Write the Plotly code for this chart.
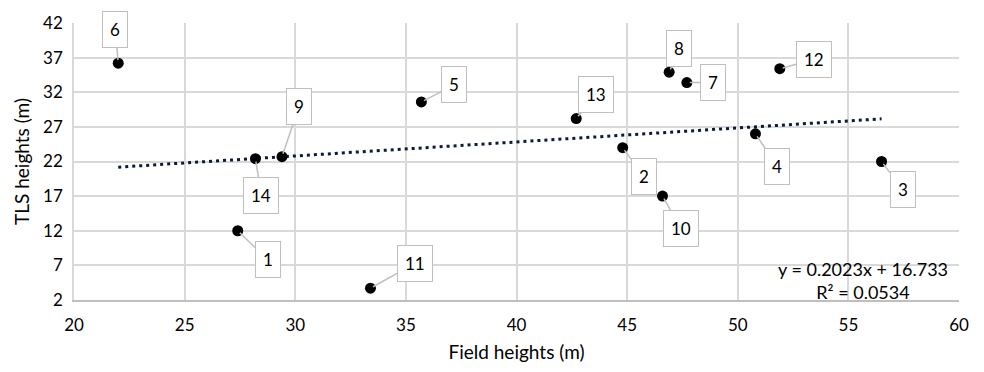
import plotly.graph_objects as go

# Tree heights: field measurement vs terrestrial laser scanning
tree_ids = ["1", "2", "3", "4", "5", "6", "7", "8", "9", "10", "11", "12", "13", "14"]
field_heights = [27.4, 44.8, 56.5, 50.8, 35.7, 22.0, 47.7, 46.9, 29.4, 46.6, 33.4, 51.9, 42.7, 28.2]
tls_heights = [12.0, 24.0, 22.0, 26.0, 30.6, 36.2, 33.4, 34.9, 22.7, 17.0, 3.7, 35.4, 28.2, 22.4]

# Linear trend reported on the chart
slope = 0.2023
intercept = 16.733
r_squared = 0.0534

x_ticks = [20, 25, 30, 35, 40, 45, 50, 55, 60]
y_ticks = [2, 7, 12, 17, 22, 27, 32, 37, 42]

# Callout placement (pixel offset of each label from its point)
callout_offsets = {
    "1": (30, 29), "2": (21, 29), "3": (21, 28), "4": (22, 33),
    "5": (33, -17), "6": (-3, -34), "7": (26, 0), "8": (10, -24),
    "9": (17, -50), "10": (18, 32), "11": (45, -25), "12": (34, -9),
    "13": (20, -24), "14": (6, 37),
}

FONT = "Lato, 'Open Sans', sans-serif"
GRID = "#d9d9d9"

fig = go.Figure()

x0, x1 = min(field_heights), max(field_heights)
fig.add_trace(go.Scatter(
    x=[x0, x1],
    y=[slope * x0 + intercept, slope * x1 + intercept],
    mode="lines",
    line=dict(color="#0b1a3a", width=3, dash="3px,4px"),
    hoverinfo="skip",
    showlegend=False,
))

fig.add_trace(go.Scatter(
    x=field_heights,
    y=tls_heights,
    mode="markers",
    marker=dict(color="black", size=11),
    text=tree_ids,
    showlegend=False,
))

for tid, fx, ty in zip(tree_ids, field_heights, tls_heights):
    dx, dy = callout_offsets[tid]
    fig.add_annotation(
        x=fx, y=ty, text=tid,
        showarrow=True, arrowhead=0, arrowwidth=1.5, arrowcolor="#bfbfbf",
        ax=dx, ay=dy, standoff=3,
        bgcolor="white", bordercolor="#bfbfbf", borderwidth=1, borderpad=7,
        font=dict(family=FONT, size=17, color="black"),
    )

fig.add_annotation(
    x=0.8915, y=0.07, xref="paper", yref="paper",
    xanchor="center", yanchor="middle",
    text=f"y = {slope}x + {intercept}<br>R² = {r_squared}",
    showarrow=False, align="center",
    font=dict(family=FONT, size=18, color="black"),
)

fig.update_layout(
    width=984, height=372,
    margin=dict(l=74, r=25, t=16, b=71),
    paper_bgcolor="white", plot_bgcolor="white",
    font=dict(family=FONT, size=17, color="black"),
    xaxis=dict(
        range=[20, 60], tickvals=x_ticks, showgrid=True, gridcolor=GRID, gridwidth=1.5,
        showline=True, linecolor="#bfbfbf", linewidth=1.5, zeroline=False,
        ticks="", ticklen=0, ticklabelstandoff=9,
        title=dict(text="Field heights (m)", font=dict(size=19), standoff=12),
        tickfont=dict(size=17),
    ),
    yaxis=dict(
        range=[2, 42], tickvals=y_ticks, showgrid=True, gridcolor=GRID, gridwidth=1.5,
        showline=True, linecolor=GRID, linewidth=1.5, zeroline=False,
        ticks="", ticklen=0, ticklabelstandoff=6,
        title=dict(text="TLS heights (m)", font=dict(size=19), standoff=8),
        tickfont=dict(size=17),
    ),
)

fig.write_html("out.html")
